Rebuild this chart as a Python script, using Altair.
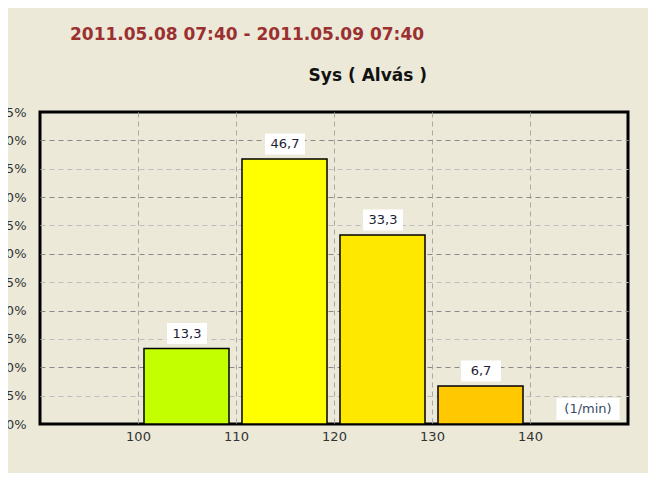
import altair as alt
import pandas as pd

# ---- data ----
bin_start = [100, 110, 120, 130]
bin_end = [110, 120, 130, 140]
percent = [13.3, 46.7, 33.3, 6.7]
bar_labels = ["13,3", "46,7", "33,3", "6,7"]
bar_colors = ["#C4FF00", "#FFFF00", "#FFE800", "#FFC800"]
x_ticks = [100, 110, 120, 130, 140]
y_ticks = [0, 5, 10, 15, 20, 25, 30, 35, 40, 45, 50, 55]
title_text = "2011.05.08 07:40 - 2011.05.09 07:40"
subtitle_text = "Sys ( Alvás )"
unit_text = "(1/min)"

df = pd.DataFrame({
    "start": bin_start,
    "end": bin_end,
    "pct": percent,
    "label": bar_labels,
})
df["mid"] = (df["start"] + df["end"]) / 2

FONT = "DejaVu Sans"
BG = "#ECE9D8"

xscale = alt.Scale(domain=[90, 150], nice=False, zero=False)
yscale = alt.Scale(domain=[0, 55], nice=False)

xaxis = alt.Axis(values=x_ticks, grid=True, gridDash=[5, 4], gridColor="#a8a8a8",
                 gridWidth=1, domain=False, ticks=False, labelPadding=6,
                 labelFont=FONT, labelFontSize=13, labelColor="#333333", title=None)
yaxis = alt.Axis(values=y_ticks, grid=True, gridDash=[5, 4],
                 gridColor={"condition": {"test": "datum.value % 10 === 0", "value": "#8a8a8a"},
                            "value": "#bdbdbd"},
                 gridOpacity={"condition": {"test": "datum.value === 0 || datum.value === 55",
                                            "value": 0}, "value": 1},
                 gridWidth=1, domain=False, ticks=False, labelPadding=14,
                 labelOverlap=False, labelFlush=False,
                 labelExpr="datum.value + '%'",
                 labelFont=FONT, labelFontSize=13, labelColor="#333333", title=None)

base = alt.Chart(df)

bars = base.mark_rect(stroke="black", strokeWidth=1.5, xOffset=6, x2Offset=-7).encode(
    x=alt.X("start:Q", scale=xscale, axis=xaxis),
    x2="end:Q",
    y=alt.Y("pct:Q", scale=yscale, axis=yaxis),
    y2=alt.datum(0),
    color=alt.Color("label:N", scale=alt.Scale(domain=bar_labels, range=bar_colors), legend=None),
)

box_shape = "M-1,-0.525H1V0.525H-1Z"
label_boxes = base.mark_point(shape=box_shape, size=1600, filled=True, color="white",
                              opacity=1, strokeWidth=0, yOffset=-15).encode(
    x=alt.X("mid:Q", scale=xscale, axis=xaxis),
    y=alt.Y("pct:Q", scale=yscale, axis=yaxis),
)
label_text = base.mark_text(font=FONT, fontSize=13, color="#1e2233", baseline="middle",
                            yOffset=-15).encode(
    x=alt.X("mid:Q", scale=xscale, axis=xaxis),
    y=alt.Y("pct:Q", scale=yscale, axis=yaxis),
    text="label:N",
)

unit_df = pd.DataFrame({"t": [unit_text]})
unit_box = alt.Chart(unit_df).mark_point(shape="M-1,-0.35H1V0.35H-1Z", size=3969, filled=True,
                                         color="white", opacity=1, strokeWidth=0).encode(
    x=alt.value(548), y=alt.value(297))
unit_label = alt.Chart(unit_df).mark_text(font=FONT, fontSize=13, color="#3a4a66",
                                          baseline="middle").encode(
    x=alt.value(548), y=alt.value(297), text="t:N")

title_df = pd.DataFrame({"t": [title_text]})
title_mark = alt.Chart(title_df).mark_text(font=FONT, fontSize=17, fontWeight="bold",
                                           color="#9B3030", align="left",
                                           baseline="middle").encode(
    x=alt.value(30), y=alt.value(-77), text="t:N")
sub_df = pd.DataFrame({"t": [subtitle_text]})
sub_mark = alt.Chart(sub_df).mark_text(font=FONT, fontSize=17, fontWeight="bold",
                                       color="#111111", align="right",
                                       baseline="middle").encode(
    x=alt.value(387), y=alt.value(-36), text="t:N")

chart = alt.layer(bars, label_boxes, label_text, unit_box, unit_label, title_mark, sub_mark).properties(
    width=588,
    height=312,
    autosize=alt.AutoSizeParams(type="none"),
    padding={"left": 32, "top": 104, "right": 20, "bottom": 49},
    background=BG,
).configure_view(
    stroke="black", strokeWidth=3, fill=BG
)

chart.save("out.html", embed_options={"renderer": "svg", "actions": False})
